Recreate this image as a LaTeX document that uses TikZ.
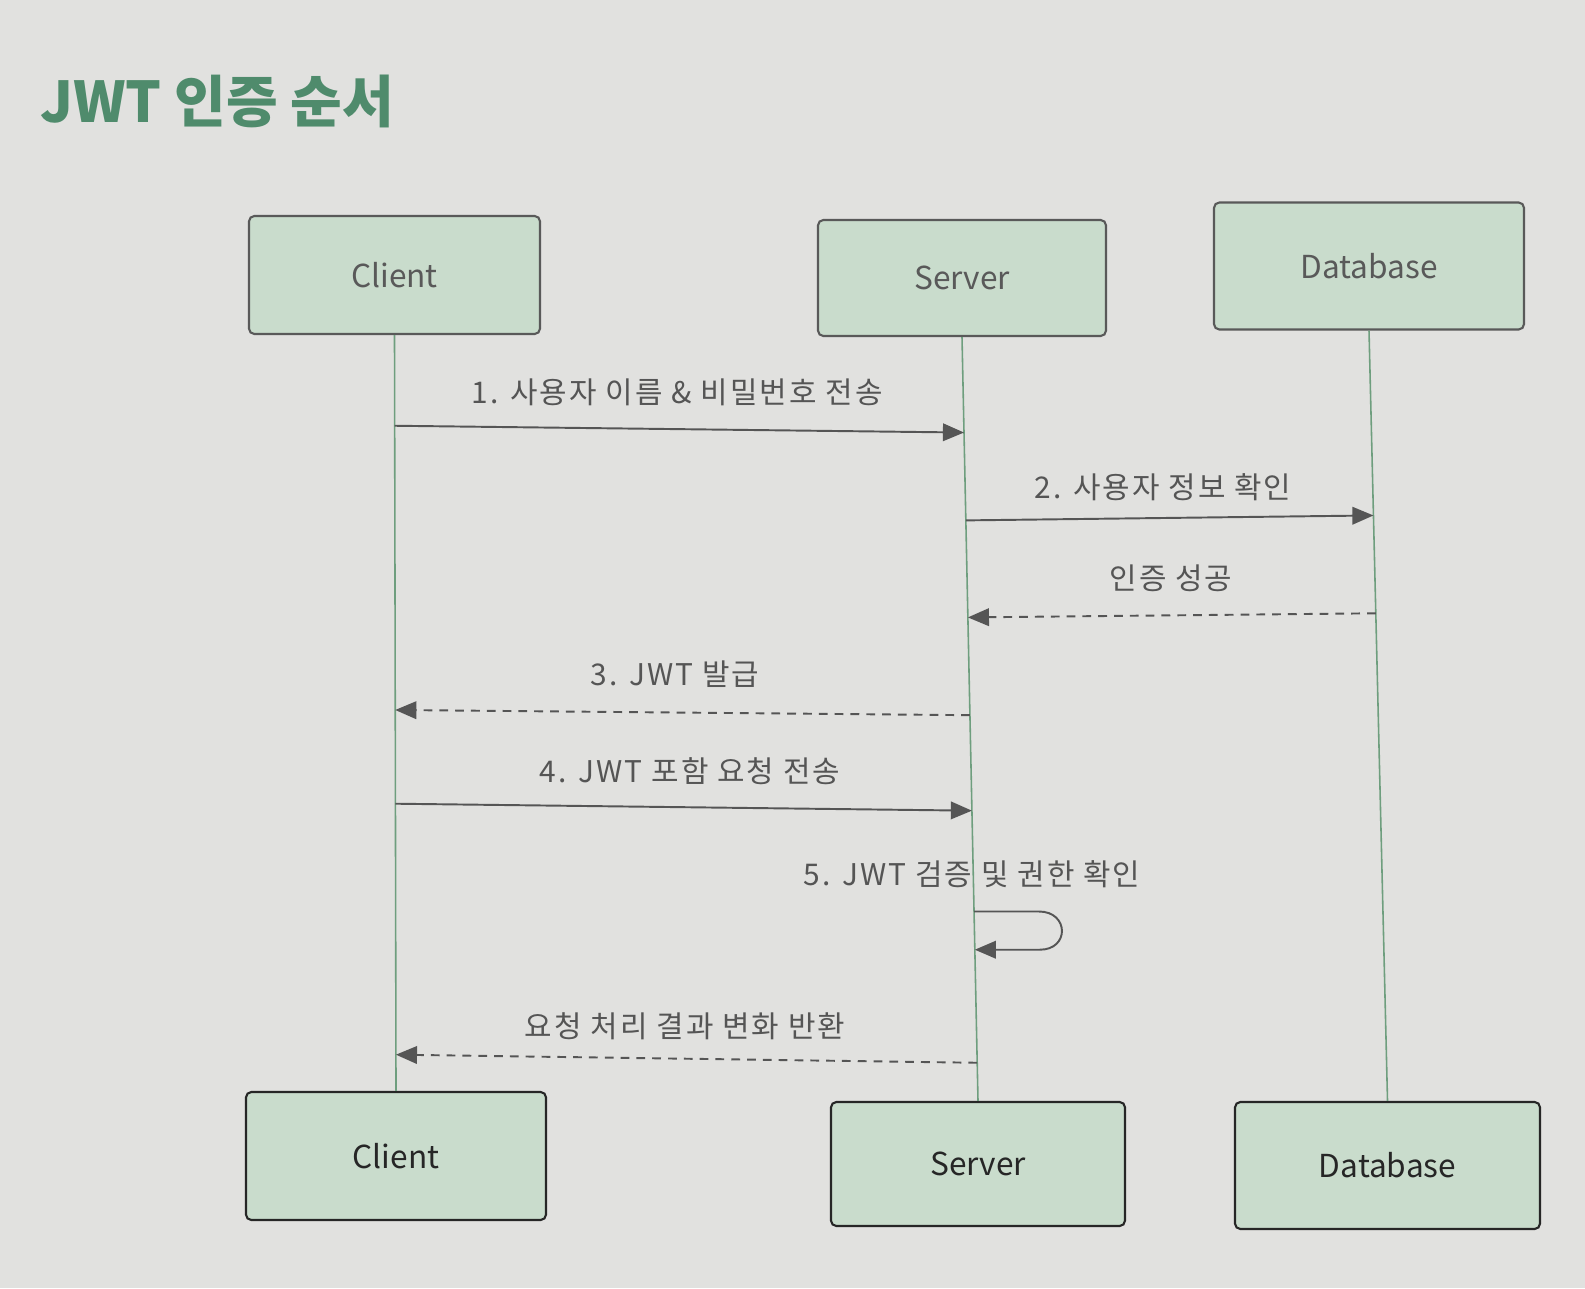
\documentclass[tikz,border=0pt]{standalone}
\usepackage{fontspec}
\newfontfamily\kr{Noto Sans CJK KR}
\newfontfamily\krl{Noto Sans CJK KR}[LetterSpace=7]
\usetikzlibrary{calc,arrows.meta}
\definecolor{pagebg}{HTML}{E1E1DF}
\definecolor{boxfill}{HTML}{C9DCCC}
\definecolor{titlegreen}{HTML}{4F8B6C}
\definecolor{lifegreen}{HTML}{6E9E7E}
\definecolor{msggray}{HTML}{555555}
\tikzset{
  actor/.style={draw=#1, fill=boxfill, line width=1.2pt, rounded corners=3pt,
    font=\kr\fontsize{18}{20}\selectfont, text=#1},
  lifeline/.style={draw=lifegreen, line width=0.9pt},
  msg/.style={draw=msggray, line width=1.1pt, -{Triangle[length=12pt,width=10pt]}},
  reply/.style={msg, dash pattern=on 5pt off 4pt},
  lbl/.style={font=\krl\fontsize{17}{20}\selectfont, text=msggray}
}
\begin{document}
\begin{tikzpicture}[x=0.02cm, y=-0.02cm]
\fill[pagebg] (0,0) rectangle (1585,1288);
\useasboundingbox (0,0) rectangle (1585,1288);

\node[anchor=west, font=\kr\bfseries\fontsize{32}{36}\selectfont, text=titlegreen] (title) at (34,101) {JWT 인증 순서};

% top actors
\node[actor=black!65, minimum width=5.82cm, minimum height=2.36cm] (cT) at (394.5,275) {Client};
\node[actor=black!65, minimum width=5.76cm, minimum height=2.32cm] (sT) at (962,278) {Server};
\node[actor=black!65, minimum width=6.2cm, minimum height=2.54cm] (dT) at (1369,266) {Database};
% bottom actors
\node[actor=black!85, minimum width=6.0cm, minimum height=2.56cm] (cB) at (396,1156) {Client};
\node[actor=black!85, minimum width=5.88cm, minimum height=2.48cm] (sB) at (978,1164) {Server};
\node[actor=black!85, minimum width=6.1cm, minimum height=2.54cm] (dB) at (1387.5,1165.5) {Database};

% lifelines
\draw[lifeline] (cT.south) -- (cB.north);
\draw[lifeline] (sT.south) -- (sB.north);
\draw[lifeline] (dT.south) -- (dB.north);

% points on lifelines
\coordinate (c1) at ($(cT.south)!0.120!(cB.north)$);
\coordinate (s1) at ($(sT.south)!0.125!(sB.north)$);
\coordinate (s2) at ($(sT.south)!0.240!(sB.north)$);
\coordinate (d2) at ($(dT.south)!0.240!(dB.north)$);
\coordinate (d3) at ($(dT.south)!0.367!(dB.north)$);
\coordinate (s3) at ($(sT.south)!0.367!(sB.north)$);
\coordinate (s4) at ($(sT.south)!0.495!(sB.north)$);
\coordinate (c4) at ($(cT.south)!0.496!(cB.north)$);
\coordinate (c5) at ($(cT.south)!0.620!(cB.north)$);
\coordinate (s5) at ($(sT.south)!0.620!(sB.north)$);
\coordinate (s6a) at ($(sT.south)!0.752!(sB.north)$);
\coordinate (s6b) at ($(sT.south)!0.802!(sB.north)$);
\coordinate (s7) at ($(sT.south)!0.950!(sB.north)$);
\coordinate (c7) at ($(cT.south)!0.952!(cB.north)$);

% messages
\draw[msg] (c1) -- (s1);
\node[lbl] (l1) at (677,392) {1. 사용자 이름 \& 비밀번호 전송};

\draw[msg] (s2) -- (d2);
\node[lbl] (l2) at (1163,487) {2. 사용자 정보 확인};

\draw[reply] (d3) -- (s3);
\node[lbl] (l3) at (1171,578) {인증 성공};

\draw[reply] (s4) -- (c4);
\node[lbl] (l4) at (675,674) {3. JWT 발급};

\draw[msg] (c5) -- (s5);
\node[lbl] (l5) at (690,771) {4. JWT 포함 요청 전송};

\node[lbl] (l6) at (972,874) {5. JWT 검증 및 권한 확인};
\draw[msg] (s6a) -- ++(65,0) .. controls ++(30,0) and ++(30,0) .. ($(s6b)+(65,0)$) -- (s6b);

\draw[reply] (s7) -- (c7);
\node[lbl] (l7) at (685,1026) {요청 처리 결과 변화 반환};
\end{tikzpicture}
\end{document}
